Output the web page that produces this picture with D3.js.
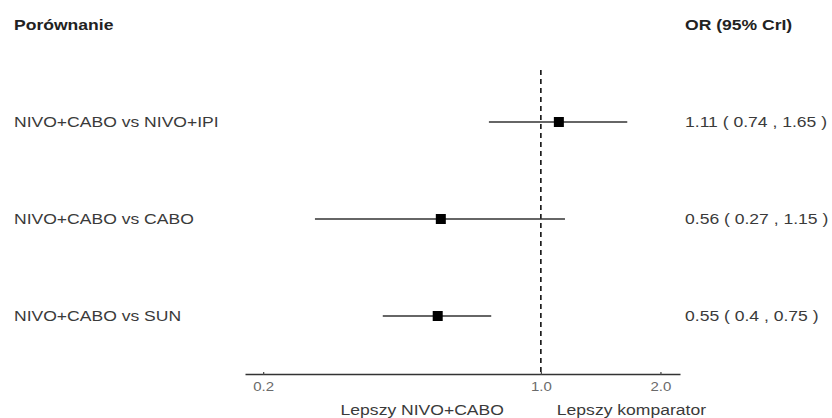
<!DOCTYPE html>
<html>
<head>
<meta charset="utf-8">
<script src="https://cdn.jsdelivr.net/npm/d3@7/dist/d3.min.js"></script>
<style>
  html, body { margin: 0; padding: 0; background: #fff; }
  svg { display: block; font-family: "Liberation Sans", Arial, sans-serif; }
</style>
</head>
<body>
<svg id="chart" width="832" height="418"></svg>
<script>
// Odds ratios with 95% credible intervals
const comparisons = ["NIVO+CABO vs NIVO+IPI", "NIVO+CABO vs CABO", "NIVO+CABO vs SUN"];
const orValues = [1.11, 0.56, 0.55];
const lowerValues = [0.74, 0.27, 0.4];
const upperValues = [1.65, 1.15, 0.75];
const tickValues = [0.2, 1.0, 2.0];
const headerLeft = "Porównanie";
const headerRight = "OR (95% CrI)";
const axisLeftNote = "Lepszy NIVO+CABO";
const axisRightNote = "Lepszy komparator";

const rows = comparisons.map((c, i) => ({
  label: c, or: orValues[i], lo: lowerValues[i], hi: upperValues[i]
}));

const svg = d3.select("#chart");
const textCol = "#3a3a3a";
const fs = 15;
const stretch = 1.17; // wide type: glyphs widened horizontally

const x = d3.scaleLog().domain([0.18, 2.24]).range([245, 680]);
const y = d3.scalePoint().domain(comparisons).range([122, 316]);
const axisY = 374;

// text placed at (px, py) and widened around its anchor
function label(parent, px, py, str, opts = {}) {
  return parent.append("text")
    .attr("transform", `translate(${px},${py}) scale(${opts.sx || stretch},1)`)
    .attr("dy", "0.35em")
    .attr("font-size", opts.size || fs)
    .attr("font-weight", opts.weight || "normal")
    .attr("fill", opts.fill || textCol)
    .attr("text-anchor", opts.anchor || "start")
    .text(str);
}

// headers
label(svg, 14, 25, headerLeft, { weight: "bold", fill: "#222" });
label(svg, 685, 25, headerRight, { weight: "bold", fill: "#222" });

// reference line at OR = 1
svg.append("line")
  .attr("x1", x(1)).attr("x2", x(1))
  .attr("y1", 70).attr("y2", axisY)
  .attr("stroke", "#111").attr("stroke-width", 1.6)
  .attr("stroke-dasharray", "5,4");

// x axis
const axis = d3.axisBottom(x).tickValues(tickValues)
  .tickFormat(d3.format(".1f")).tickSize(0).tickPadding(0);
const gAx = svg.append("g").attr("transform", `translate(0,${axisY})`).call(axis);
gAx.select(".domain").attr("stroke", "#333").attr("stroke-width", 1.6);
gAx.selectAll(".tick").append("line")
  .attr("y1", -2).attr("y2", 1).attr("stroke", "#444").attr("stroke-width", 1.2);
gAx.selectAll(".tick text")
  .attr("y", 0)
  .attr("transform", "translate(0,13) scale(1.2,1)")
  .attr("dy", "0.35em")
  .attr("font-size", 12.5).attr("fill", "#6a6a6a")
  .attr("font-family", "Liberation Sans, Arial, sans-serif");

// rows: interval lines, point estimates, labels and values
const g = svg.append("g");
g.selectAll("line.ci").data(rows).join("line")
  .attr("class", "ci")
  .attr("x1", d => x(d.lo)).attr("x2", d => x(d.hi))
  .attr("y1", d => y(d.label)).attr("y2", d => y(d.label))
  .attr("stroke", "#333").attr("stroke-width", 1.6);
const sq = 10;
g.selectAll("rect.pt").data(rows).join("rect")
  .attr("class", "pt")
  .attr("x", d => x(d.or) - sq / 2).attr("y", d => y(d.label) - sq / 2)
  .attr("width", sq).attr("height", sq).attr("fill", "#000");

rows.forEach(d => {
  label(g, 14, y(d.label), d.label);
  label(g, 685, y(d.label), `${d.or} ( ${d.lo} , ${d.hi} )`);
});

// direction notes under the axis
label(svg, x(1) - 37, 410, axisLeftNote, { anchor: "end" });
label(svg, x(1) + 16, 410, axisRightNote);
</script>
</body>
</html>
